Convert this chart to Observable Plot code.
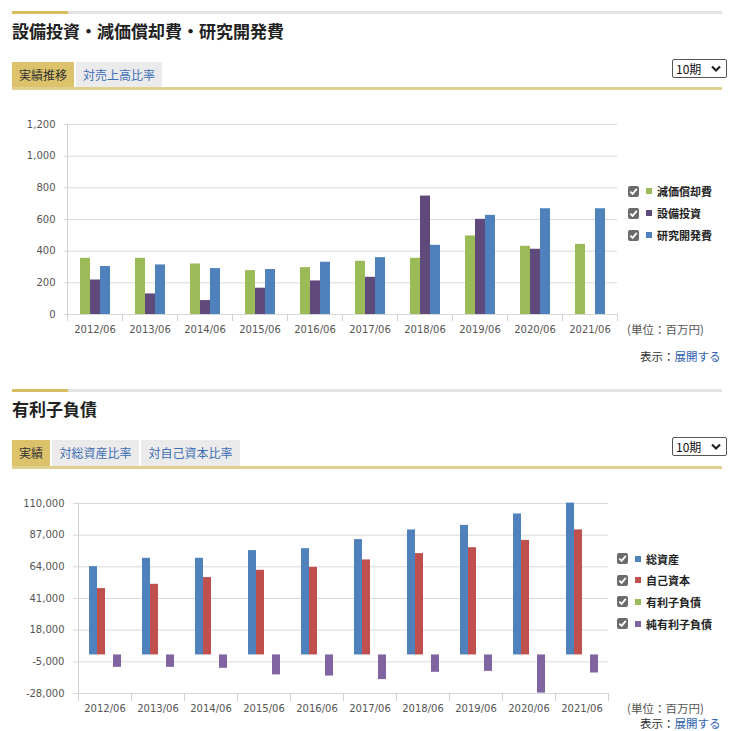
<!DOCTYPE html>
<html><head><meta charset="utf-8">
<script src="https://cdn.jsdelivr.net/npm/d3@7"></script>
<script src="https://cdn.jsdelivr.net/npm/@observablehq/plot@0.6"></script>
<style>
html,body{margin:0;padding:0;}
body{width:744px;height:731px;overflow:hidden;background:#fff;position:relative;font-family:"Noto Sans CJK JP","Noto Sans",sans-serif;}
.topline{position:absolute;left:12px;width:710px;height:3px;background:#e3e3e3;}
.topline i{position:absolute;left:0;top:0;width:56px;height:3px;background:#d6bd62;}
.title{position:absolute;left:12px;font-size:17px;font-weight:bold;color:#222;line-height:20px;white-space:nowrap;}
.tab{position:absolute;height:26px;line-height:26px;font-size:12px;text-align:center;white-space:nowrap;}
.tab.on{background:#dcc36b;color:#333;}
.tab.off{background:#ebebeb;color:#3d6db5;}
.uline{position:absolute;left:12px;width:710px;height:3px;background:#e0cf8e;}
.sel{position:absolute;left:672px;width:53px;height:17px;border:1px solid #555;border-radius:2px;font-size:12px;line-height:17px;color:#111;background:#fff;}
.sel span{position:absolute;left:3px;top:0;}
.sel svg{position:absolute;left:38px;top:5px;}
.chart{position:absolute;left:0;}
.legend{position:absolute;}
.legend .row{display:flex;align-items:center;font-size:11px;font-weight:bold;color:#222;white-space:nowrap;}
.cb{width:11px;height:11px;background:#6b6b6b;border-radius:2px;position:relative;flex:none;}
.cb svg{position:absolute;left:0;top:0;}
.sw{width:6px;height:6px;margin-left:7px;margin-right:5px;flex:none;}
.unit{position:absolute;font-size:11.5px;color:#555;line-height:16px;white-space:nowrap;}
.more{position:absolute;left:640px;font-size:11.5px;color:#333;line-height:14px;white-space:nowrap;}
.more a{color:#2f62b0;text-decoration:none;}
</style></head>
<body>
<div class="topline" style="top:11px"><i></i></div>
<div class="title" style="top:21px">設備投資・減価償却費・研究開発費</div>
<div class="tab on" style="left:12px;top:62px;width:62px">実績推移</div>
<div class="tab off" style="left:76px;top:62px;width:86px">対売上高比率</div>
<div class="sel" style="top:59px"><span>10期</span><svg width="10" height="8" viewBox="0 0 10 8"><polyline points="1,1.5 5,5.5 9,1.5" fill="none" stroke="#222" stroke-width="2.2"/></svg></div>
<div class="uline" style="top:87px"></div>
<div id="chart1" class="chart" style="top:110px"></div>
<div id="legend1" class="legend" style="left:628px;top:180px"></div>
<div class="unit" style="left:627px;top:321px">(単位：百万円)</div>
<div class="more" style="top:349px">表示：<a>展開する</a></div>

<div class="topline" style="top:389px"><i></i></div>
<div class="title" style="top:399px">有利子負債</div>
<div class="tab on" style="left:12px;top:440px;width:38px">実績</div>
<div class="tab off" style="left:52px;top:440px;width:87px">対総資産比率</div>
<div class="tab off" style="left:141px;top:440px;width:99px">対自己資本比率</div>
<div class="sel" style="top:437px"><span>10期</span><svg width="10" height="8" viewBox="0 0 10 8"><polyline points="1,1.5 5,5.5 9,1.5" fill="none" stroke="#222" stroke-width="2.2"/></svg></div>
<div class="uline" style="top:466px"></div>
<div id="chart2" class="chart" style="top:490px"></div>
<div id="legend2" class="legend" style="left:617px;top:548px"></div>
<div class="unit" style="left:627px;top:700px">(単位：百万円)</div>
<div class="more" style="top:716px">表示：<a>展開する</a></div>

<script>
// ---- data: chart 1 (設備投資・減価償却費・研究開発費, 百万円) ----
const periods = ["2012/06","2013/06","2014/06","2015/06","2016/06","2017/06","2018/06","2019/06","2020/06","2021/06"];
const series1 = ["減価償却費","設備投資","研究開発費"];
const colors1 = ["#9bbb59","#604a7b","#4f81bd"];
const depreciation = [355, 355, 319, 277, 296, 336, 355, 496, 431, 443];
const capex        = [218, 130,  88, 166, 212, 235, 748, 601, 412, null];
const rnd          = [303, 313, 290, 284, 330, 359, 437, 626, 668, 668];
const yTicks1 = [0, 200, 400, 600, 800, 1000, 1200];

// ---- data: chart 2 (有利子負債, 百万円) ----
const series2 = ["総資産","自己資本","有利子負債","純有利子負債"];
const colors2 = ["#4f81bd","#c0504d","#9bbb59","#8064a2"];
const totalAssets = [64100, 70200, 70200, 75800, 77200, 83800, 90800, 94100, 102400, 110300];
const equity      = [48200, 51300, 56200, 61500, 63600, 69000, 73600, 77900, 83200, 90800];
const debt        = [0, 0, 0, 0, 0, 0, 0, 0, 0, 0];
const netDebt     = [-9000, -9000, -9700, -14500, -15300, -17900, -12600, -11900, -27700, -13100];
const yTicks2 = [-28000, -5000, 18000, 41000, 64000, 87000, 110000];

function toRows(names, values) {
  return names.flatMap((s, k) => periods.map((p, i) => ({period: p, series: s, value: values[k][i]})))
    .filter(d => d.value != null);
}

function barChart(o) {
  const frameH = o.height - o.marginTop - o.marginBottom;
  const line = "#d0d0d0";
  return Plot.plot({
    width: o.width, height: o.height,
    marginLeft: o.marginLeft, marginRight: 5, marginTop: o.marginTop, marginBottom: o.marginBottom,
    style: {fontFamily: "DejaVu Sans", fontSize: "10px", background: "transparent", overflow: "visible"},
    fx: {domain: periods, padding: 0, label: null},
    x: {domain: o.names, paddingInner: 0, paddingOuter: o.paddingOuter, axis: null},
    y: {domain: o.yDomain, label: null},
    color: {domain: o.names, range: o.colors},
    marks: [
      Plot.gridY(o.yTicks, {stroke: "#d9d9d9", strokeOpacity: 1}),
      Plot.barY(o.rows, {fx: "period", x: "series", y: "value", fill: "series"}),
      Plot.frame({anchor: "left", facetAnchor: "left", stroke: line, insetBottom: -o.sepLen}),
      Plot.frame({anchor: "left", stroke: line, insetTop: frameH, insetBottom: -o.sepLen}),
      Plot.frame({anchor: "right", facetAnchor: "right", stroke: line, insetTop: frameH, insetBottom: -o.sepLen}),
      Plot.axisY(o.yTicks, {tickSize: o.yTickSize, tickPadding: 9, stroke: "#d9d9d9", fill: "#555", label: null,
        tickFormat: d => d.toLocaleString("en-US")}),
      Plot.axisFx({anchor: "bottom", tickSize: 0, tickPadding: o.xPad, fill: "#555", label: null})
    ]
  });
}

document.getElementById("chart1").append(barChart({
  width: 625, height: 232, marginLeft: 63, marginTop: 14, marginBottom: 28,
  names: series1, colors: colors1, rows: toRows(series1, [depreciation, capex, rnd]),
  yDomain: [0, 1200], yTicks: yTicks1, yTickSize: 3, paddingOuter: 1.03, sepLen: 6, xPad: 11
}));
document.getElementById("chart2").append(barChart({
  width: 613, height: 232, marginLeft: 77, marginTop: 13, marginBottom: 29,
  names: series2, colors: colors2, rows: toRows(series2, [totalAssets, equity, debt, netDebt]),
  yDomain: [-28000, 110000], yTicks: yTicks2, yTickSize: 5, paddingOuter: 1.3, sepLen: 7, xPad: 11.5
}));

function legend(id, names, colors, rowH) {
  const el = document.getElementById(id);
  names.forEach((n, i) => {
    const row = document.createElement("div");
    row.className = "row";
    row.style.height = rowH + "px";
    row.innerHTML = '<span class="cb"><svg width="11" height="11" viewBox="0 0 11 11"><polyline points="2.3,5.6 4.6,7.9 8.8,2.9" fill="none" stroke="#fff" stroke-width="1.8"/></svg></span>' +
      '<span class="sw" style="background:' + colors[i] + '"></span><span>' + n + '</span>';
    el.append(row);
  });
}
legend("legend1", series1, colors1, 22);
legend("legend2", series2, colors2, 21.6);
</script>
</body></html>
